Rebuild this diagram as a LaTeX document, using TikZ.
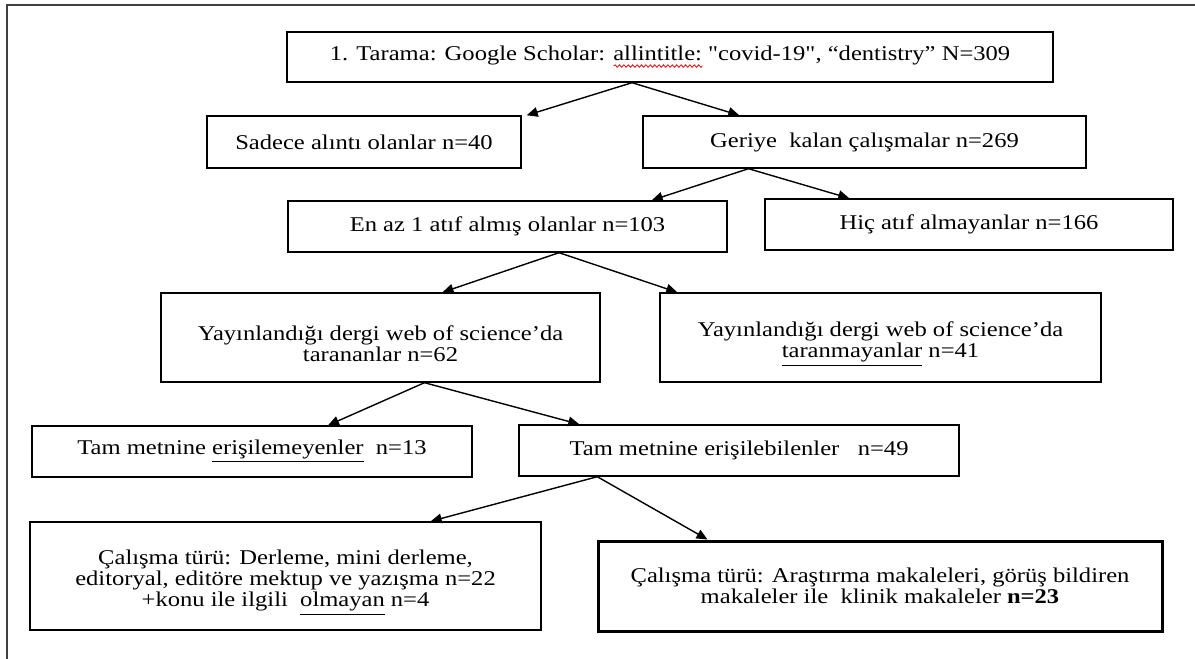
\documentclass[tikz,border=0pt]{standalone}
\usepackage{fontspec}
\setmainfont{Liberation Serif}[Ligatures=TeXOff,FakeStretch=1.17]
\usetikzlibrary{arrows.meta,decorations.pathmorphing}

\newsavebox\wordbox
\newcommand\spellwave[1]{\sbox\wordbox{#1}\rlap{\raisebox{-2.6pt}{\tikz[baseline=0pt]\draw[wavered,line width=0.45pt,decorate,decoration={snake,amplitude=0.6pt,segment length=2.2pt}] (0pt,0pt) -- (\wd\wordbox,0pt);}}\usebox\wordbox}
\newcommand\topgap{\rule{0pt}{14pt}}

\begin{document}
\begin{tikzpicture}[x=0.5pt,y=-0.5pt,
	flowbox/.style={draw,line width=0.7pt,inner sep=0pt,align=center,font=\fontsize{10.5}{10.5}\selectfont},
	flowarrow/.style={-{Triangle[length=5.5pt,width=4.8pt]},line width=0.7pt}]
	\definecolor{framegray}{gray}{0.25}
	\definecolor{wavered}{HTML}{E31B1B}
	\useasboundingbox (0,0) rectangle (1195,659);
	%% Frame ------
	\draw[framegray,line width=1.3pt] (1195,5) -- (7,5) -- (7,659);
	%% Boxes ------
	\node[flowbox,minimum width=383pt,minimum height=25pt] (scan) at (670,57) {1. Tarama: Google Scholar: \spellwave{allintitle:} "covid-19", “dentistry” N=309};
	\node[flowbox,minimum width=157pt,minimum height=26pt] (sadece) at (364,142) {Sadece alıntı olanlar n=40};
	\node[flowbox,minimum width=221.5pt,minimum height=26pt] (geriye) at (864.5,142) {Geriye\ \ kalan çalışmalar n=269};
	\node[flowbox,minimum width=219.5pt,minimum height=25.5pt] (enaz) at (507.5,226.5) {En az 1 atıf almış olanlar n=103};
	\node[flowbox,minimum width=204pt,minimum height=25.5pt] (hic) at (969,224.5) {Hiç atıf almayanlar n=166};
	\node[flowbox,minimum width=219.5pt,minimum height=44.5pt] (yayL) at (380.5,337.5) {\topgap Yayınlandığı dergi web of science’da\\ tarananlar n=62};
	\node[flowbox,minimum width=220.5pt,minimum height=44.5pt] (yayR) at (880.5,337.5) {\topgap Yayınlandığı dergi web of science’da\\ \underline{taranmayanlar} n=41};
	\node[flowbox,minimum width=220pt,minimum height=25.5pt] (tamL) at (252,451.5) {Tam metnine \underline{erişilemeyenler}\ \ n=13};
	\node[flowbox,minimum width=220pt,minimum height=25.5pt] (tamR) at (739,450.5) {Tam metnine erişilebilenler\ \ \ n=49};
	\node[flowbox,minimum width=255.5pt,minimum height=54pt] (calL) at (285.5,576) {\topgap Çalışma türü: Derleme, mini derleme,\\ editoryal, editöre mektup ve yazışma n=22\\ +konu ile ilgili\ \ \underline{olmayan} n=4};
	\node[flowbox,line width=1.5pt,minimum width=282pt,minimum height=45pt] (calR) at (880,586) {Çalışma türü: Araştırma makaleleri, görüş bildiren\\ makaleler ile\ \ klinik makaleler \textbf{n=23}};
	%% Arrows ------
	\draw[flowarrow] ([xshift=-19pt]scan.south) -- ([xshift=2.5pt]sadece.north east);
	\draw[flowarrow] ([xshift=-19pt]scan.south) -- ([xshift=48.5pt]geriye.north west);
	\draw[flowarrow] ([xshift=-58pt]geriye.south) -- ([xshift=-38pt]enaz.north east);
	\draw[flowarrow] ([xshift=-58pt]geriye.south) -- ([xshift=42.5pt]hic.north west);
	\draw[flowarrow] ([xshift=25.75pt]enaz.south) -- ([xshift=31pt]yayL.north);
	\draw[flowarrow] ([xshift=25.75pt]enaz.south) -- ([xshift=9pt]yayR.north west);
	\draw[flowarrow] ([xshift=22pt]yayL.south) -- ([xshift=38pt]tamL.north);
	\draw[flowarrow] ([xshift=22pt]yayL.south) -- ([xshift=30.5pt]tamR.north west);
	\draw[flowarrow] ([xshift=39.5pt]tamR.south west) -- ([xshift=-55.5pt]calL.north east);
	\draw[flowarrow] ([xshift=39.5pt]tamR.south west) -- ([xshift=55.5pt]calR.north west);
\end{tikzpicture}
\end{document}
